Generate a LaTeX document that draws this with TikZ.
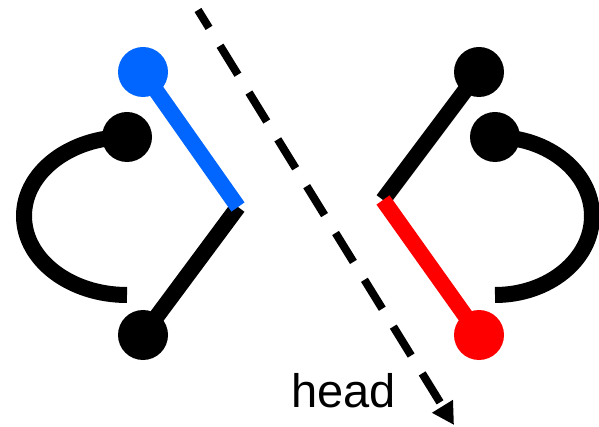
\documentclass[tikz,border=0pt]{standalone}
\usepackage{fontspec}
\setmainfont{Liberation Sans}
\usetikzlibrary{positioning, arrows.meta, backgrounds}
\definecolor{headblue}{RGB}{0,102,255}
\definecolor{tailred}{RGB}{255,0,0}

\begin{document}
\begin{tikzpicture}[x=1pt, y=-1pt]
  % Define styles for beads, rods and the axis
  \tikzset{
    bead/.style={circle, fill=#1, minimum size=50pt, inner sep=0pt},
    bead/.default=black,
    rod/.style={draw=#1, line width=16pt},
    rod/.default=black,
    strand/.style={draw=black, line width=16pt},
    axis/.style={line width=8pt, dash pattern=on 34pt off 21pt, dash phase=13pt,
      -{Triangle[length=22pt, width=23pt]}},
    annotation/.style={font=\fontsize{47}{50}\selectfont, inner sep=0pt, anchor=base west}
  }
  \useasboundingbox (0,0) rectangle (599,427);

  % Left molecule
  \node[bead=headblue] (lhead) at (143,72) {};
  \node[bead] (lupper) at (127,137) {};
  \node[bead] (ltail) at (143,335) {};
  \coordinate (ljoint) at (238,207);

  % Right molecule
  \node[bead] (rhead) at (479,72) {};
  \node[bead] (rupper) at (495,137) {};
  \node[bead=tailred] (rtail) at (479,335) {};
  \coordinate (rjoint) at (383,200);

  % Draw the rods and strands behind the beads
  \begin{scope}[on background layer]
    \draw[rod] (ljoint) -- (ltail.center);
    \draw[rod=headblue] (lhead.center) -- (ljoint);
    \draw[strand] (lupper.center) arc[start angle=90, end angle=270, x radius=103pt, y radius=79pt];
    \draw[rod] (rjoint) -- (rhead.center);
    \draw[rod=tailred] (rjoint) -- (rtail.center);
    \draw[strand] (rupper.center) arc[start angle=90, end angle=-90, x radius=97pt, y radius=79pt];
  \end{scope}

  % Dashed axis with its label
  \coordinate (axstart) at (198,10);
  \coordinate (axtip) at (454,425);
  \draw[axis] (axstart) -- (axtip);
  \node[annotation] (headlabel) at (291,407) {head};
\end{tikzpicture}
\end{document}
